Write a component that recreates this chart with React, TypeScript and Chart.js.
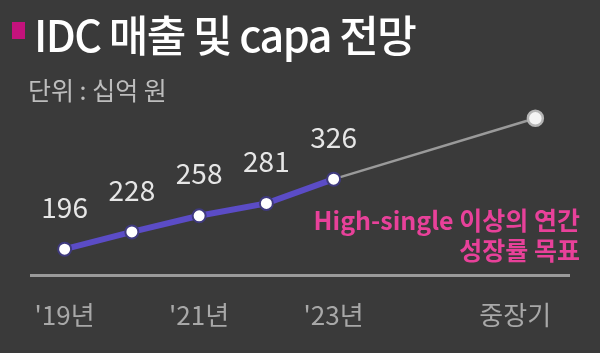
import React, { useEffect, useRef } from "react";
import { Chart, registerables } from "chart.js";

Chart.register(...registerables);

const TITLE = "IDC 매출 및 capa 전망";
const SUBTITLE = "단위 : 십억 원";
const NOTE_LINES = ["High-single 이상의 연간", "성장률 목표"];

const HIST_X = [0, 1, 2, 3, 4];
const HIST_VALUES = [196, 228, 258, 281, 326];
const TARGET_X = [4, 7];
const TARGET_VALUES = [326, 439];
const TICK_POS = [0, 2, 4, 6.7];
const TICK_LABELS = ["'19년", "'21년", "'23년", "중장기"];

const FONT = "'Noto Sans CJK KR', 'Noto Sans', sans-serif";
const BG = "#3a3a3a";

const headerPlugin = {
  id: "header",
  beforeDraw(chart: any) {
    const ctx = chart.ctx;
    ctx.save();
    ctx.fillStyle = BG;
    ctx.fillRect(0, 0, chart.width, chart.height);
    ctx.restore();
  },
  afterDraw(chart: any) {
    const ctx = chart.ctx;
    ctx.save();
    ctx.fillStyle = "#c4127c";
    ctx.fillRect(12, 22, 13, 17);
    ctx.fillStyle = "#ffffff";
    ctx.font = `500 43px ${FONT}`;
    ctx.textAlign = "left";
    ctx.textBaseline = "alphabetic";
    try { (ctx as any).letterSpacing = "-1.5px"; } catch (e) {}
    ctx.fillText(TITLE, 34, 52);
    try { (ctx as any).letterSpacing = "0px"; } catch (e) {}
    ctx.fillStyle = "#bdbdbd";
    ctx.font = `400 25px ${FONT}`;
    ctx.textBaseline = "middle";
    ctx.fillText(SUBTITLE, 28, 90);
    ctx.fillStyle = "#e8419a";
    ctx.font = `700 25px ${FONT}`;
    ctx.textAlign = "right";
    NOTE_LINES.forEach((t, i) => ctx.fillText(t, 580, 220 + i * 30));
    ctx.restore();
  },
};

const valueLabelPlugin = {
  id: "valueLabels",
  afterDatasetsDraw(chart: any) {
    const ctx = chart.ctx;
    const meta = chart.getDatasetMeta(0);
    ctx.save();
    ctx.fillStyle = "#e6e6e6";
    ctx.font = `400 28px ${FONT}`;
    ctx.textAlign = "center";
    ctx.textBaseline = "middle";
    meta.data.forEach((pt: any, i: number) => {
      ctx.fillText(String(HIST_VALUES[i]), pt.x, pt.y - 42);
    });
    ctx.restore();
  },
};

export default function App() {
  const ref = useRef<HTMLCanvasElement>(null);
  useEffect(() => {
    if (!ref.current) return;
    const chart = new Chart(ref.current, {
      type: "line",
      data: {
        datasets: [
          {
            data: HIST_X.map((x, i) => ({ x, y: HIST_VALUES[i] })),
            borderColor: "#5b4cc6",
            borderWidth: 6,
            pointRadius: 6.5,
            pointBackgroundColor: "#ffffff",
            pointBorderColor: "#3f3a7e",
            pointBorderWidth: 2,
            tension: 0,
            clip: false as any,
          },
          {
            data: TARGET_X.map((x, i) => ({ x, y: TARGET_VALUES[i] })),
            borderColor: "#9a9a9a",
            borderWidth: 2.5,
            pointRadius: [0, 7.5],
            pointBackgroundColor: "#f4f4f4",
            pointBorderColor: "#b5b5b5",
            pointBorderWidth: 2.5,
            tension: 0,
            clip: false as any,
          },
        ],
      },
      options: {
        animation: false,
        responsive: false,
        maintainAspectRatio: false,
        layout: { padding: { left: 31, right: 31, top: 100, bottom: 0 } },
        plugins: {
          legend: { display: false },
          tooltip: { enabled: false },
          title: { display: false },
        },
        scales: {
          x: {
            type: "linear",
            min: -0.5,
            max: 7.5,
            grid: { display: false, drawTicks: false },
            border: { display: true, color: "#9a9a9a", width: 3 },
            afterFit: (s: any) => { s.height = 78; },
            afterBuildTicks: (s: any) => {
              s.ticks = TICK_POS.map((v) => ({ value: v }));
            },
            ticks: {
              autoSkip: false,
              maxRotation: 0,
              padding: 25,
              color: "#a8a8a8",
              font: { family: FONT, size: 26 },
              callback: (v: any) => {
                const i = TICK_POS.indexOf(Number(v));
                return i >= 0 ? TICK_LABELS[i] : "";
              },
            },
          },
          y: {
            type: "linear",
            display: false,
            min: 148,
            max: 473,
          },
        },
      },
      plugins: [headerPlugin, valueLabelPlugin],
    });
    return () => chart.destroy();
  }, []);
  return (
    <div style={{ position: "absolute", left: 0, top: 0, width: 600, height: 353, background: BG }}>
      <canvas ref={ref} width={600} height={353} />
    </div>
  );
}
